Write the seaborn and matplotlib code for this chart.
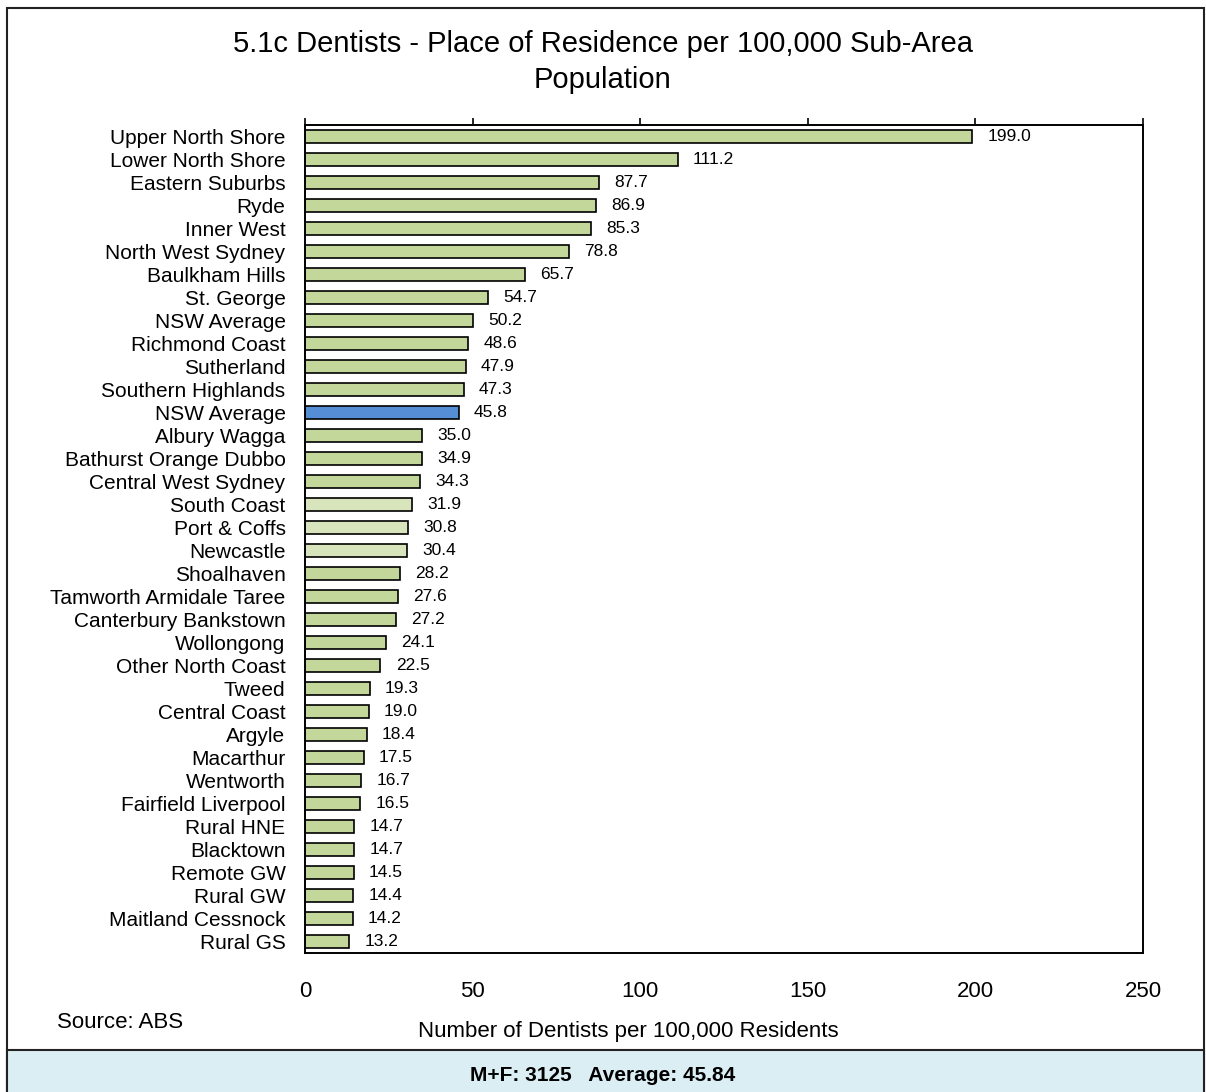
import pandas as pd
import matplotlib
matplotlib.use("Agg")
import matplotlib.pyplot as plt
from matplotlib.patches import Rectangle
import seaborn as sns

# ── Data ───────────────────────────────────────────────────────────────────────
AREAS = [
    "Upper North Shore", "Lower North Shore", "Eastern Suburbs", "Ryde", "Inner West",
    "North West Sydney", "Baulkham Hills", "St. George", "NSW Average", "Richmond Coast",
    "Sutherland", "Southern Highlands", "NSW Average", "Albury Wagga",
    "Bathurst Orange Dubbo", "Central West Sydney", "South Coast", "Port & Coffs",
    "Newcastle", "Shoalhaven", "Tamworth Armidale Taree", "Canterbury Bankstown",
    "Wollongong", "Other North Coast", "Tweed", "Central Coast", "Argyle", "Macarthur",
    "Wentworth", "Fairfield Liverpool", "Rural HNE", "Blacktown", "Remote GW", "Rural GW",
    "Maitland Cessnock", "Rural GS",
]
RATES = [
    199.0, 111.2, 87.7, 86.9, 85.3, 78.8, 65.7, 54.7, 50.2, 48.6, 47.9, 47.3, 45.8,
    35.0, 34.9, 34.3, 31.9, 30.8, 30.4, 28.2, 27.6, 27.2, 24.1, 22.5, 19.3, 19.0,
    18.4, 17.5, 16.7, 16.5, 14.7, 14.7, 14.5, 14.4, 14.2, 13.2,
]
# bar shade per row: "g" normal green, "l" light green, "b" highlighted average
SHADES = list("gggggggggggg" + "b" + "ggg" + "lll" + "ggggggggggggggggg")
XTICKS = [0, 50, 100, 150, 200, 250]

SHADE_COLORS = {"g": "#c4d79b", "l": "#d8e4bc", "b": "#558ed5"}

# ── Style ──────────────────────────────────────────────────────────────────────
sns.set_theme(style="white")
plt.rcParams["font.family"] = ["Liberation Sans", "DejaVu Sans"]
plt.rcParams["text.color"] = "black"
plt.rcParams["xtick.color"] = "black"
plt.rcParams["ytick.color"] = "black"

df = pd.DataFrame({"area": AREAS, "rate": RATES, "shade": SHADES})
df["row"] = [f"r{i}" for i in range(len(df))]
palette = {r: SHADE_COLORS[s] for r, s in zip(df["row"], df["shade"])}

fig = plt.figure(figsize=(12.06, 10.92), dpi=100)
ax = fig.add_axes([0.2529, 0.1273, 0.6949, 0.7582])

sns.barplot(data=df, x="rate", y="row", hue="row", palette=palette, legend=False,
            orient="h", width=0.56, saturation=1, edgecolor="black", linewidth=1.2, ax=ax)

for cont in ax.containers:
    ax.bar_label(cont, fmt="%.1f", padding=11, fontsize=12.5, color="black")

ax.set_xlim(0, 250)
ax.set_xticks(XTICKS)
ax.set_yticks(range(len(df)))
ax.set_yticklabels(AREAS, fontsize=15)
ax.set_xlabel("")
ax.set_ylabel("")
ax.tick_params(axis="y", length=0, pad=14)
ax.tick_params(axis="x", bottom=False, top=True, labelbottom=True, labeltop=False,
               direction="out", length=5, width=1.2, color="black", pad=15, labelsize=16)
for sp in ax.spines.values():
    sp.set_visible(True)
    sp.set_color("black")
    sp.set_linewidth(1.4)

# ── Figure texts ───────────────────────────────────────────────────────────────
fig.text(0.5, 0.9524, "5.1c Dentists - Place of Residence per 100,000 Sub-Area",
         ha="center", va="baseline", fontsize=21)
fig.text(0.5, 0.9194, "Population", ha="center", va="baseline", fontsize=21)
fig.text(0.0473, 0.0586, "Source: ABS", ha="left", va="baseline", fontsize=16)
fig.text(0.5207, 0.0504, "Number of Dentists per 100,000 Residents",
         ha="center", va="baseline", fontsize=16)

# outer frame and footer box
fig.add_artist(Rectangle((0.0058, -0.01), 0.9925, 1.0027, transform=fig.transFigure,
                         fill=False, edgecolor="#222222", linewidth=1.5))
fig.add_artist(Rectangle((0.0058, -0.01), 0.9925, 0.0485, transform=fig.transFigure,
                         facecolor="#dbeef4", edgecolor="#222222", linewidth=1.5))
fig.text(0.5, 0.0147, "M+F: 3125   Average: 45.84", ha="center", va="center",
         fontsize=15, fontweight="bold")

fig.savefig("out.png", dpi=100, facecolor="white")
